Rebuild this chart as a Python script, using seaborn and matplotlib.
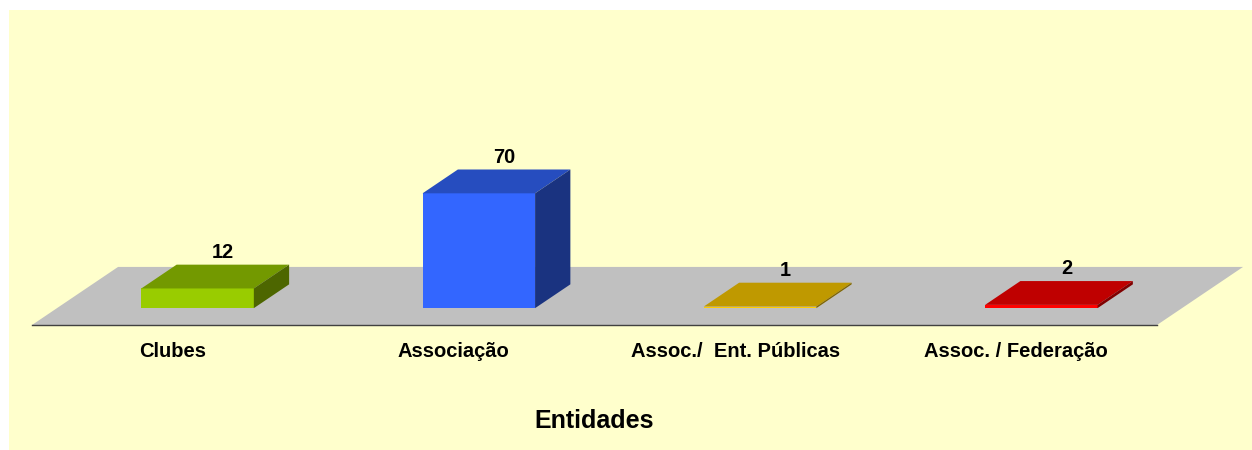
import matplotlib
matplotlib.use("Agg")
import matplotlib.pyplot as plt
from matplotlib.patches import Polygon, Rectangle
import seaborn as sns

# chart data
categories = ["Clubes", "Associação", "Assoc./  Ent. Públicas", "Assoc. / Federação"]
values = [12, 70, 1, 2]
front_colors = ["#99CC00", "#3366FF", "#FFCC00", "#FF0000"]
top_colors = ["#739900", "#264DBF", "#BF9900", "#BF0000"]
side_colors = ["#4D6600", "#1A3380", "#806600", "#800000"]
x_title = "Entidades"

# fake 3D geometry (data units)
DX, DY = 0.306, 35.4      # depth offset of the floor
F0, BD = 0.29, 0.41       # bar front position / bar depth as fraction of floor depth

sns.set_style("white")
plt.rcParams["font.family"] = ["Liberation Sans", "DejaVu Sans"]
plt.rcParams["font.weight"] = "bold"
plt.rcParams["text.color"] = "black"
plt.rcParams["xtick.color"] = "black"
plt.rcParams["axes.labelcolor"] = "black"

fig = plt.figure(figsize=(12.52, 4.5), dpi=100)
fig.patch.set_facecolor("white")
fig.patches.append(Rectangle((9 / 1252, 0), 1 - 9 / 1252, 1 - 10 / 450,
                             transform=fig.transFigure, facecolor="#FFFFCC",
                             edgecolor="none", zorder=-10))

ax = fig.add_axes([32 / 1252, 125 / 450, 1125 / 1252, 315 / 450])
ax.set_facecolor("none")

sns.barplot(x=categories, y=values, hue=categories, palette=front_colors,
            width=0.4, legend=False, ax=ax, linewidth=0, saturation=1, zorder=3)

ax.set_xlim(-0.5, len(categories) - 0.5)
ax.set_ylim(0, 192)

# floor
n = len(categories)
floor = Polygon([(-0.5, 0), (n - 0.5, 0), (n - 0.5 + DX, DY), (-0.5 + DX, DY)],
                closed=True, facecolor="#C0C0C0", edgecolor="none",
                clip_on=False, zorder=1)
ax.add_patch(floor)

# move bars back onto the floor and add the top / side faces
for patch, val, tc, sc in zip(ax.patches[:n], values, top_colors, side_colors):
    x0 = patch.get_x() + F0 * DX
    y0 = F0 * DY
    w = patch.get_width()
    h = patch.get_height()
    patch.set_x(x0)
    patch.set_y(y0)
    patch.set_clip_on(False)
    bx, by = BD * DX, BD * DY
    top = Polygon([(x0, y0 + h), (x0 + w, y0 + h), (x0 + w + bx, y0 + h + by),
                   (x0 + bx, y0 + h + by)], closed=True, facecolor=tc,
                  edgecolor="none", clip_on=False, zorder=3)
    side = Polygon([(x0 + w, y0), (x0 + w + bx, y0 + by), (x0 + w + bx, y0 + h + by),
                    (x0 + w, y0 + h)], closed=True, facecolor=sc,
                   edgecolor="none", clip_on=False, zorder=3)
    ax.add_patch(top)
    ax.add_patch(side)
    ax.annotate(str(val), (x0 + w / 2 + 0.72 * bx, y0 + h + by),
                xytext=(0, 2), textcoords="offset points",
                ha="center", va="bottom", fontsize=14.4, fontweight="bold")

# axis styling
for s in ["top", "right", "left"]:
    ax.spines[s].set_visible(False)
ax.spines["bottom"].set_color("#404040")
ax.spines["bottom"].set_linewidth(1.0)
ax.spines["bottom"].set_zorder(2)
ax.set_yticks([])
ax.set_ylabel("")
ax.set_xticks([i - 0.5 for i in range(n + 1)])
ax.set_xticklabels([])
ax.tick_params(axis="x", which="major", direction="out", length=5, color="#404040")
ax.set_xticks(range(n), minor=True)
ax.set_xticklabels(categories, minor=True, fontsize=14.5, fontweight="bold")
ax.tick_params(axis="x", which="minor", length=0, pad=12.5)
ax.set_xlabel(x_title, fontsize=18, fontweight="bold", labelpad=34)

fig.savefig("out.png", dpi=100)
